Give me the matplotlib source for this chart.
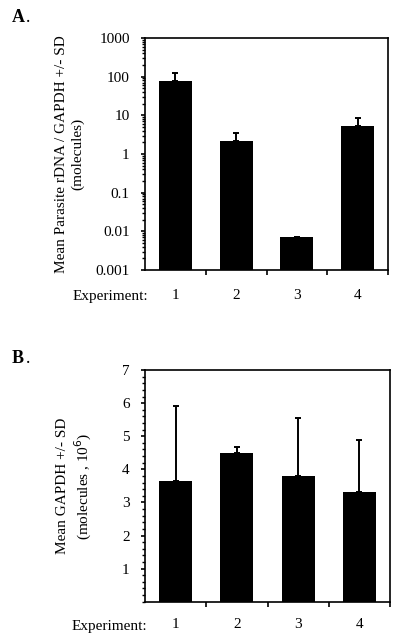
import numpy as np
import matplotlib.pyplot as plt
from matplotlib.ticker import FixedLocator, MultipleLocator, NullFormatter

plt.rcParams['font.family'] = ['Liberation Serif', 'DejaVu Serif']

experiments = ['1', '2', '3', '4']

# panel A: parasite rDNA / GAPDH (log scale)
ratio_mean = [79, 2.2, 0.007, 5.3]
ratio_sd = [43, 1.3, 0, 3.4]
ratio_ticks = [0.001, 0.01, 0.1, 1, 10, 100, 1000]
ratio_labels = ['0.001', '0.01', '0.1', '1', '10', '100', '1000']

# panel B: GAPDH (x 10^6 molecules)
gapdh_mean = [3.64, 4.50, 3.81, 3.31]
gapdh_sd = [2.27, 0.18, 1.75, 1.58]
gapdh_ticks = [1, 2, 3, 4, 5, 6, 7]

fig = plt.figure(figsize=(4.01, 6.4), dpi=100)
axA = fig.add_axes([0.3616, 0.5781, 0.606, 0.3625])
axB = fig.add_axes([0.3616, 0.0598, 0.611, 0.362])

x = np.arange(len(experiments)) + 0.5
fs = 11


def style_axis(ax, xpad, exp_y):
    for s in ax.spines.values():
        s.set_linewidth(1.2)
    ax.set_xlim(0, len(experiments))
    ax.xaxis.set_major_locator(FixedLocator([1, 2, 3, 4]))
    ax.xaxis.set_major_formatter(NullFormatter())
    ax.xaxis.set_minor_locator(FixedLocator(x))
    ax.set_xticklabels(experiments, minor=True, fontsize=fs)
    ax.tick_params(axis='x', which='major', direction='out', length=3.5, width=1.2)
    ax.tick_params(axis='x', which='minor', length=0, pad=xpad)
    ax.tick_params(axis='y', which='major', direction='out', length=3, width=1.2, labelsize=fs, pad=8)
    ax.tick_params(axis='y', which='minor', direction='out', length=2, width=1)
    ax.text(-0.144, exp_y, 'Experiment:', transform=ax.transAxes, fontsize=fs,
            ha='center', va='center')


# A
axA.bar(x, ratio_mean, width=0.54, color='black', log=True,
        yerr=[np.zeros(4), ratio_sd], error_kw=dict(ecolor='black', elinewidth=1.4, capsize=2.5, capthick=1.4))
axA.set_yscale('log')
axA.set_ylim(0.001, 1000)
axA.set_yticks(ratio_ticks)
axA.set_yticklabels(ratio_labels)
axA.yaxis.set_minor_formatter(NullFormatter())
style_axis(axA, 14, -0.116)
axA.set_ylabel('Mean Parasite rDNA / GAPDH +/- SD\n(molecules)', fontsize=fs, labelpad=8, linespacing=1.3)

# B
axB.bar(x, gapdh_mean, width=0.54, color='black',
        yerr=[np.zeros(4), gapdh_sd], error_kw=dict(ecolor='black', elinewidth=1.4, capsize=2.5, capthick=1.4))
axB.set_ylim(0, 7)
axB.set_yticks(gapdh_ticks)
axB.yaxis.set_minor_locator(MultipleLocator(0.2))
style_axis(axB, 12, -0.105)
axB.set_ylabel('Mean GAPDH +/- SD\n(molecules , 10$^{6}$)', fontsize=fs, labelpad=20, linespacing=1.3)

fig.text(0.03, 0.972, 'A', fontsize=13, fontweight='bold', ha='left', va='center')
fig.text(0.064, 0.972, '.', fontsize=13, ha='left', va='center')
fig.text(0.03, 0.4406, 'B', fontsize=13, fontweight='bold', ha='left', va='center')
fig.text(0.064, 0.4406, '.', fontsize=13, ha='left', va='center')

fig.savefig('out.png', dpi=100)
